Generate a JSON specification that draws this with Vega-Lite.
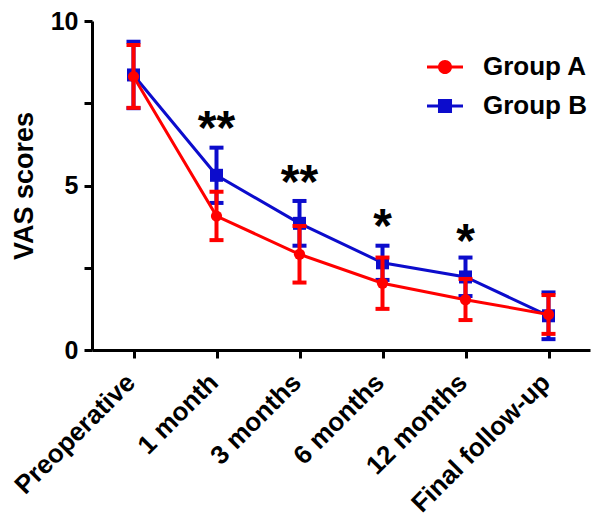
{
  "$schema": "https://vega.github.io/schema/vega-lite/v6.json",
  "width": 498,
  "height": 329,
  "autosize": {"type": "none"},
  "padding": {"left": 92, "top": 21, "right": 10, "bottom": 173},
  "background": "white",
  "config": {
    "view": {"stroke": null},
    "font": "Liberation Sans",
    "axis": {"grid": false, "domainColor": "black", "domainWidth": 3, "tickColor": "black", "tickWidth": 3, "tickSize": 8, "labelColor": "black", "labelFont": "Liberation Sans", "labelFontWeight": "bold", "titleFont": "Liberation Sans", "titleFontWeight": "bold", "titleColor": "black"},
    "axisX": {"labelAngle": -45, "labelFontSize": 26, "labelPadding": 20, "labelOffset": -3, "labelAlign": "right", "labelBaseline": "middle", "labelLimit": 0, "labelOverlap": false},
    "axisY": {"labelFontSize": 25, "labelPadding": 6, "titleFontSize": 27, "titlePadding": 12}
  },
  "datasets": {
    "main": [
      {"time": "Preoperative", "group": "Group B", "mean": 8.36, "lo": 7.35, "hi": 9.37},
      {"time": "1 month", "group": "Group B", "mean": 5.31, "lo": 4.47, "hi": 6.15},
      {"time": "3 months", "group": "Group B", "mean": 3.85, "lo": 3.17, "hi": 4.53},
      {"time": "6 months", "group": "Group B", "mean": 2.65, "lo": 2.13, "hi": 3.17},
      {"time": "12 months", "group": "Group B", "mean": 2.22, "lo": 1.64, "hi": 2.81},
      {"time": "Final follow-up", "group": "Group B", "mean": 1.04, "lo": 0.33, "hi": 1.75},
      {"time": "Preoperative", "group": "Group A", "mean": 8.31, "lo": 7.36, "hi": 9.27},
      {"time": "1 month", "group": "Group A", "mean": 4.07, "lo": 3.34, "hi": 4.81},
      {"time": "3 months", "group": "Group A", "mean": 2.91, "lo": 2.05, "hi": 3.77},
      {"time": "6 months", "group": "Group A", "mean": 2.03, "lo": 1.25, "hi": 2.81},
      {"time": "12 months", "group": "Group A", "mean": 1.53, "lo": 0.91, "hi": 2.16},
      {"time": "Final follow-up", "group": "Group A", "mean": 1.08, "lo": 0.49, "hi": 1.67}
    ],
    "stars": [
      {"time": "1 month", "pos": 6.25, "label": "**"},
      {"time": "3 months", "pos": 4.61, "label": "**"},
      {"time": "6 months", "pos": 3.27, "label": "*"},
      {"time": "12 months", "pos": 2.83, "label": "*"}
    ]
  },
  "encoding": {
    "x": {
      "field": "time", "type": "nominal", "title": null,
      "scale": {"type": "point", "padding": 0.5, "domain": ["Preoperative", "1 month", "3 months", "6 months", "12 months", "Final follow-up"]}
    }
  },
  "layer": [
    {
      "data": {"name": "main"},
      "transform": [{"filter": "datum.group === 'Group B'"}],
      "layer": [
        {"mark": {"type": "line", "color": "#0c0ccc", "strokeWidth": 3},
         "encoding": {"y": {"field": "mean", "type": "quantitative", "title": "VAS scores", "scale": {"domain": [0, 10]}, "axis": {"values": [0, 2.5, 5, 7.5, 10], "labelExpr": "datum.value % 5 === 0 ? datum.label : ''"}}}},
        {"mark": {"type": "rule", "color": "#0c0ccc", "strokeWidth": 4},
         "encoding": {"y": {"field": "lo", "type": "quantitative", "title": "VAS scores"}, "y2": {"field": "hi"}}},
        {"mark": {"type": "tick", "color": "#0c0ccc", "size": 14, "thickness": 4, "opacity": 1},
         "encoding": {"y": {"field": "hi", "type": "quantitative", "title": "VAS scores"}}},
        {"mark": {"type": "tick", "color": "#0c0ccc", "size": 14, "thickness": 4, "opacity": 1},
         "encoding": {"y": {"field": "lo", "type": "quantitative", "title": "VAS scores"}}},
        {"mark": {"type": "point", "shape": "square", "filled": true, "opacity": 1, "size": 169, "color": "#0c0ccc"},
         "encoding": {"y": {"field": "mean", "type": "quantitative", "title": "VAS scores"}}}
      ]
    },
    {
      "data": {"name": "main"},
      "transform": [{"filter": "datum.group === 'Group A'"}],
      "layer": [
        {"mark": {"type": "line", "color": "#ff0000", "strokeWidth": 3},
         "encoding": {"y": {"field": "mean", "type": "quantitative", "title": "VAS scores"}}},
        {"mark": {"type": "rule", "color": "#ff0000", "strokeWidth": 4},
         "encoding": {"y": {"field": "lo", "type": "quantitative", "title": "VAS scores"}, "y2": {"field": "hi"}}},
        {"mark": {"type": "tick", "color": "#ff0000", "size": 14, "thickness": 4, "opacity": 1},
         "encoding": {"y": {"field": "hi", "type": "quantitative", "title": "VAS scores"}}},
        {"mark": {"type": "tick", "color": "#ff0000", "size": 14, "thickness": 4, "opacity": 1},
         "encoding": {"y": {"field": "lo", "type": "quantitative", "title": "VAS scores"}}},
        {"mark": {"type": "point", "shape": "circle", "filled": true, "opacity": 1, "size": 126, "color": "#ff0000"},
         "encoding": {"y": {"field": "mean", "type": "quantitative", "title": "VAS scores"}}}
      ]
    },
    {
      "data": {"name": "stars"},
      "mark": {"type": "text", "font": "Liberation Sans", "fontSize": 48, "fontWeight": "bold", "color": "black", "baseline": "alphabetic"},
      "encoding": {
        "y": {"field": "pos", "type": "quantitative", "title": "VAS scores"},
        "text": {"field": "label"}
      }
    },
    {
      "data": {"name": "main"},
      "transform": [{"filter": "datum.group === 'none'"}],
      "mark": {"type": "point", "filled": true, "opacity": 1},
      "encoding": {
        "y": {"field": "mean", "type": "quantitative", "title": "VAS scores"},
        "color": {"field": "group", "type": "nominal", "scale": {"domain": ["Group A", "Group B"], "range": ["#ff0000", "#0c0ccc"]},
          "legend": {"orient": "none", "legendX": 335, "legendY": 28, "title": null, "labelFont": "Liberation Sans", "labelFontSize": 26, "labelFontWeight": "bold", "labelColor": "black", "labelOffset": 20, "symbolSize": 1296, "symbolStrokeWidth": 0, "symbolOpacity": 1, "rowPadding": 8, "padding": 0}},
        "shape": {"field": "group", "type": "nominal", "scale": {"domain": ["Group A", "Group B"], "range": ["M-1,-0.09H1V0.09H-1Z M0.39,0A0.39,0.39 0 1,1 -0.39,0A0.39,0.39 0 1,1 0.39,0Z", "M-1,-0.09H1V0.09H-1Z M-0.39,-0.39H0.39V0.39H-0.39Z"]},
          "legend": {"orient": "none", "legendX": 335, "legendY": 28, "title": null, "labelFont": "Liberation Sans", "labelFontSize": 26, "labelFontWeight": "bold", "labelColor": "black", "labelOffset": 20, "symbolSize": 1296, "symbolStrokeWidth": 0, "symbolOpacity": 1, "rowPadding": 8, "padding": 0}}
      }
    }
  ]
}
